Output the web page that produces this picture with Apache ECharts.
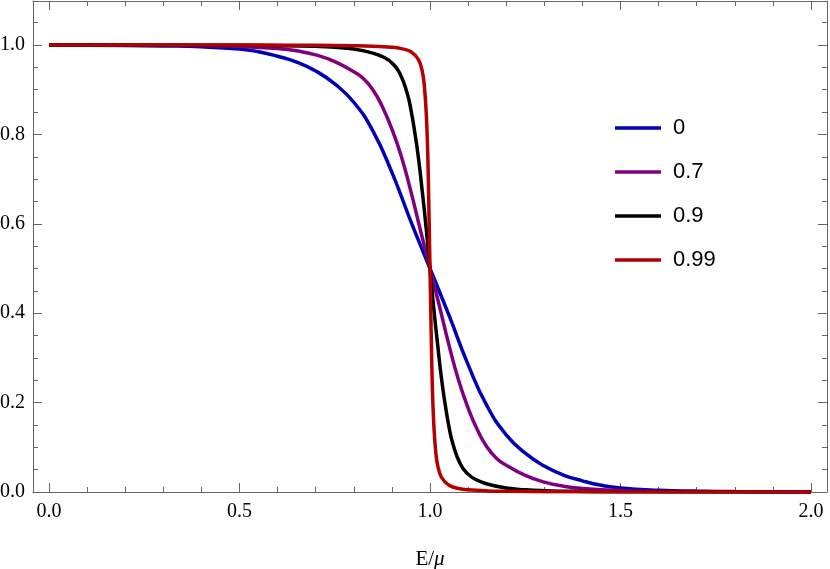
<!DOCTYPE html>
<html>
<head>
<meta charset="utf-8">
<script src="https://cdn.jsdelivr.net/npm/echarts@6/dist/echarts.min.js"></script>
<style>
  html, body { margin: 0; background: #fff; }
  #chart { width: 830px; height: 569px; }
</style>
</head>
<body>
<div id="chart"></div>
<script>
// 图例名称
const legendNames = ['0', '0.7', '0.9', '0.99']

// 刻度
const xMajorTicks = [0, 0.5, 1, 1.5, 2]
const xMinorTicks = [0, 0.1, 0.2, 0.3, 0.4, 0.5, 0.6, 0.7, 0.8, 0.9, 1, 1.1, 1.2, 1.3, 1.4, 1.5, 1.6, 1.7, 1.8, 1.9, 2]
const yMajorTicks = [0, 0.2, 0.4, 0.6, 0.8, 1]
const yMinorTicks = [0, 0.05, 0.1, 0.15, 0.2, 0.25, 0.3, 0.35, 0.4, 0.45, 0.5, 0.55, 0.6, 0.65, 0.7, 0.75, 0.8, 0.85, 0.9, 0.95, 1, 1.05]

// 曲线数据
const blueX = [0, 0.2, 0.3, 0.4, 0.5, 0.55, 0.6, 0.65, 0.7, 0.75, 0.8, 0.85, 0.9, 0.95, 1.0, 1.05, 1.1, 1.15, 1.2, 1.25, 1.3, 1.35, 1.4, 1.45, 1.5, 1.6, 1.7, 1.8, 2.0]
const blueY = [1, 0.999, 0.998, 0.996, 0.991, 0.985, 0.975, 0.962, 0.942, 0.913, 0.872, 0.808, 0.715, 0.605, 0.5, 0.395, 0.285, 0.192, 0.128, 0.087, 0.058, 0.038, 0.025, 0.015, 0.009, 0.004, 0.002, 0.001, 0.0002]

const purpleX = [0, 0.3, 0.4, 0.5, 0.6, 0.65, 0.7, 0.75, 0.8, 0.825, 0.85, 0.875, 0.9, 0.925, 0.95, 0.975, 1.0, 1.025, 1.05, 1.075, 1.1, 1.125, 1.15, 1.175, 1.2, 1.25, 1.3, 1.35, 1.4, 1.5, 1.6, 1.8, 2.0]
const purpleY = [1, 0.9997, 0.9988, 0.997, 0.992, 0.987, 0.978, 0.963, 0.94, 0.925, 0.9, 0.862, 0.812, 0.75, 0.672, 0.585, 0.5, 0.415, 0.328, 0.25, 0.188, 0.138, 0.1, 0.075, 0.06, 0.037, 0.022, 0.013, 0.008, 0.003, 0.0012, 0.0003, 0]

const blackX = [0, 0.5, 0.6, 0.7, 0.75, 0.8, 0.85, 0.88, 0.9, 0.92, 0.94, 0.95, 0.96, 0.97, 0.98, 0.99, 1.0, 1.01, 1.02, 1.03, 1.04, 1.05, 1.06, 1.08, 1.1, 1.12, 1.15, 1.2, 1.25, 1.3, 1.4, 1.5, 2.0]
const blackY = [1, 0.9995, 0.9988, 0.997, 0.995, 0.991, 0.982, 0.972, 0.96, 0.938, 0.892, 0.855, 0.805, 0.745, 0.67, 0.59, 0.5, 0.41, 0.33, 0.255, 0.195, 0.145, 0.108, 0.062, 0.04, 0.028, 0.018, 0.009, 0.005, 0.003, 0.0012, 0.0005, 0]

const redX = [0, 0.5, 0.7, 0.8, 0.85, 0.9, 0.925, 0.95, 0.97, 0.98, 0.985, 0.99, 0.994, 0.997, 1.0, 1.003, 1.006, 1.01, 1.015, 1.02, 1.03, 1.05, 1.075, 1.1, 1.15, 1.2, 1.3, 1.5, 2.0]
const redY = [1, 0.9998, 0.9994, 0.9985, 0.9975, 0.995, 0.992, 0.985, 0.967, 0.94, 0.91, 0.85, 0.76, 0.64, 0.5, 0.36, 0.24, 0.15, 0.09, 0.06, 0.033, 0.015, 0.008, 0.005, 0.0025, 0.0015, 0.0006, 0.0002, 0]

const colors = ['#0000b4', '#800080', '#000000', '#b40000']
const smoothness = [0.5, 0.5, 0.5, 0.4]
const frameColor = '#666666'
const serifFont = '"Liberation Serif", serif'
const sansFont = '"Liberation Sans", Arial, sans-serif'
const X_MIN = -0.042
const X_MAX = 2.042
const Y_MIN = 0
const Y_MAX = 1.0985

const zip = (xs, ys) => xs.map((x, i) => [x, ys[i]])

// 边框坐标轴 (Mathematica 风格的内刻度)
const frameAxis = (position, ticks, len, showLine, min, max) => ({
  type: 'value',
  position,
  min,
  max,
  axisLine: { show: showLine, onZero: false, lineStyle: { color: frameColor, width: 1 } },
  axisTick: { show: true, inside: true, length: len, customValues: ticks, lineStyle: { color: frameColor, width: 1 } },
  axisLabel: { show: false },
  splitLine: { show: false }
})

const xMain = frameAxis('bottom', xMajorTicks, 9, true, X_MIN, X_MAX)
xMain.axisLabel = {
  show: true,
  customValues: xMajorTicks,
  margin: 10,
  color: '#000',
  fontFamily: serifFont,
  fontSize: 20,
  formatter: v => v.toFixed(1)
}
xMain.name = '{a|E/}{b|μ}'
xMain.nameLocation = 'middle'
xMain.nameGap = 57
xMain.nameTextStyle = {
  rich: {
    a: { color: '#000', fontFamily: serifFont, fontSize: 21 },
    b: { color: '#000', fontFamily: serifFont, fontSize: 21, fontStyle: 'italic' }
  }
}

const yMain = frameAxis('left', yMajorTicks, 9, true, Y_MIN, Y_MAX)
yMain.axisLabel = {
  show: true,
  customValues: yMajorTicks,
  margin: 8,
  color: '#000',
  fontFamily: serifFont,
  fontSize: 20,
  formatter: v => v.toFixed(1)
}

const chart = echarts.init(document.getElementById('chart'), null, { renderer: 'canvas' })
chart.setOption({
  animation: false,
  backgroundColor: '#fff',
  textStyle: { fontFamily: serifFont, fontSize: 20, color: '#000' },
  grid: {
    left: 33,
    right: 3,
    top: 1,
    bottom: 77,
    outerBoundsMode: 'none'
  },
  legend: {
    data: legendNames,
    orient: 'vertical',
    left: 615,
    top: 117,
    padding: 0,
    icon: 'rect',
    itemWidth: 46,
    itemHeight: 3.5,
    itemGap: 22,
    textStyle: {
      color: '#000',
      fontFamily: sansFont,
      fontSize: 22,
      lineHeight: 22,
      padding: [0, 0, 0, 7]
    }
  },
  xAxis: [
    xMain,
    frameAxis('bottom', xMinorTicks, 5, false, X_MIN, X_MAX),
    frameAxis('top', xMajorTicks, 9, true, X_MIN, X_MAX),
    frameAxis('top', xMinorTicks, 5, false, X_MIN, X_MAX)
  ],
  yAxis: [
    yMain,
    frameAxis('left', yMinorTicks, 5, false, Y_MIN, Y_MAX),
    frameAxis('right', yMajorTicks, 9, true, Y_MIN, Y_MAX),
    frameAxis('right', yMinorTicks, 5, false, Y_MIN, Y_MAX)
  ],
  series: [
    [blueX, blueY],
    [purpleX, purpleY],
    [blackX, blackY],
    [redX, redY]
  ].map(([xs, ys], i) => ({
    name: legendNames[i],
    type: 'line',
    xAxisIndex: 0,
    yAxisIndex: 0,
    data: zip(xs, ys),
    showSymbol: false,
    symbol: 'none',
    smooth: smoothness[i],
    color: colors[i],
    lineStyle: { color: colors[i], width: 3.5 },
    emphasis: { disabled: true }
  }))
})
</script>
</body>
</html>
